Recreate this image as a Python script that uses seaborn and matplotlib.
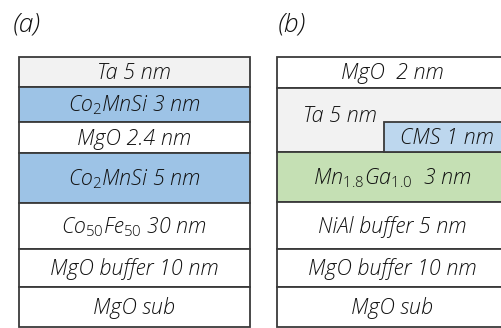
import matplotlib
matplotlib.use("Agg")
import matplotlib.pyplot as plt
import numpy as np
import seaborn as sns

sns.set_theme(style="white")
plt.rcParams["font.family"] = ["Open Sans", "DejaVu Sans"]
plt.rcParams["mathtext.fontset"] = "custom"
plt.rcParams["mathtext.it"] = "Open Sans:italic:light"
plt.rcParams["mathtext.rm"] = "Open Sans:light"

# Sample (a): layer stack, top to bottom
labels_a = ["Ta 5 nm", r"Co$_{\mathit{2}}$MnSi 3 nm", "MgO 2.4 nm", r"Co$_{\mathit{2}}$MnSi 5 nm",
            r"Co$_{\mathit{50}}$Fe$_{\mathit{50}}$ 30 nm", "MgO buffer 10 nm", "MgO sub"]
heights_a = [30, 35, 31, 50, 46, 38, 40]
colors_a = ["#f2f2f2", "#9dc3e6", "#ffffff", "#9dc3e6", "#ffffff", "#ffffff", "#ffffff"]

# Sample (b): layer stack, top to bottom
labels_b = ["MgO  2 nm", "Ta 5 nm", r"Mn$_{\mathit{1.8}}$Ga$_{\mathit{1.0}}$  3 nm",
            "NiAl buffer 5 nm", "MgO buffer 10 nm", "MgO sub"]
heights_b = [31, 64, 50, 47, 38, 40]
colors_b = ["#ffffff", "#f2f2f2", "#c5e0b4", "#ffffff", "#ffffff", "#ffffff"]

# CMS island embedded in the lower part of the Ta cap of (b)
cms_label = "CMS 1 nm"
cms_height = 30
cms_color = "#bdd7ee"

W, H = 501, 328
fig = plt.figure(figsize=(W / 100, H / 100), dpi=100)
ax = fig.add_axes([0, 0, 1, 1])
ax.set_xlim(0, W)
ax.set_ylim(H, 0)
ax.axis("off")

top = 57
edge = "#3a3a3a"
fs = 15.5
txt = dict(ha="center", va="center", style="italic", fontweight="light",
           fontsize=fs, color="#111111")


def draw_stack(x0, width, labels, heights, colors, skip_label=None):
    bottoms = top + np.concatenate([[0], np.cumsum(heights)[:-1]])
    ax.bar(x0, heights, width=width, bottom=bottoms, align="edge",
           color=colors, edgecolor=edge, linewidth=1.3)
    for i, (lab, b, h) in enumerate(zip(labels, bottoms, heights)):
        if i == skip_label:
            continue
        ax.text(x0 + width / 2, b + h / 2 + 1, lab, **txt)
    return bottoms


xa, wa = 19, 231
xb, wb = 277, 230
draw_stack(xa, wa, labels_a, heights_a, colors_a)
bb = draw_stack(xb, wb, labels_b, heights_b, colors_b, skip_label=1)

# Ta label sits upper-left, CMS box sits lower-right of the Ta layer
ta_top, ta_h = bb[1], heights_b[1]
ax.text(340, ta_top + 28, labels_b[1], **txt)
cms_x0 = 384
ax.bar(cms_x0, cms_height, width=xb + wb - cms_x0, bottom=ta_top + ta_h - cms_height,
       align="edge", color=cms_color, edgecolor=edge, linewidth=1.3)
ax.text(447, ta_top + ta_h - cms_height / 2 + 1, cms_label, **txt)

ax.text(13, 25, "(a)", ha="left", va="center", style="italic", fontweight="light",
        fontsize=19, color="#111111")
ax.text(278, 25, "(b)", ha="left", va="center", style="italic", fontweight="light",
        fontsize=19, color="#111111")

fig.savefig("out.png", dpi=100)
